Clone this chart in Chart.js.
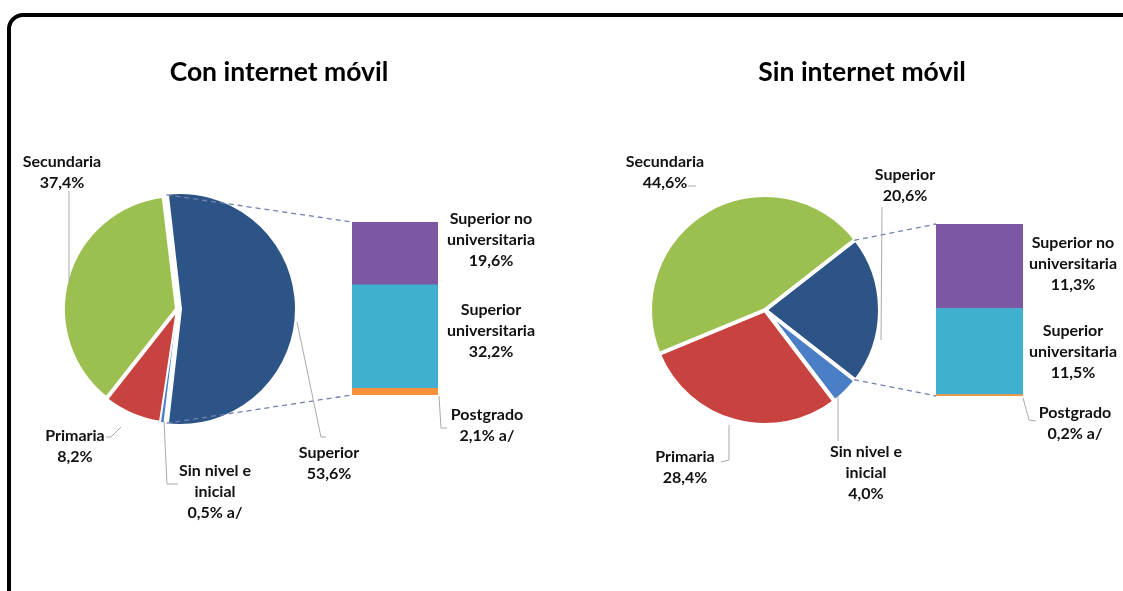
<!DOCTYPE html>
<html>
<head>
<meta charset="utf-8">
<script src="https://cdn.jsdelivr.net/npm/chart.js@4.4.0/dist/chart.umd.min.js"></script>
<style>
  html, body { margin: 0; padding: 0; background: #fff; overflow: hidden; }
  #wrap { position: relative; width: 1123px; height: 591px; overflow: hidden; }
  #frame { position: absolute; left: 7px; top: 13px; width: 1200px; height: 600px;
           border: 4px solid #000; border-radius: 16px; }
  canvas { position: absolute; left: 0; top: 0; }
</style>
</head>
<body>
<div id="wrap">
  <div id="frame"></div>
  <canvas id="pieCon" width="1123" height="591"></canvas>
  <canvas id="barCon" width="1123" height="591"></canvas>
  <canvas id="pieSin" width="1123" height="591"></canvas>
  <canvas id="barSin" width="1123" height="591"></canvas>
</div>
<script>
// pie: Superior is the slice broken out into the bar
const pieLabels = ['Superior', 'Sin nivel e inicial', 'Primaria', 'Secundaria'];
const pieNameLines = [['Superior'], ['Sin nivel e', 'inicial'], ['Primaria'], ['Secundaria']];
const pieConValues = [53.6, 0.5, 8.2, 37.4];
const pieSinValues = [20.6, 4.0, 28.4, 44.6];
const pieConNotes = ['', ' a/', '', ''];
const pieSinNotes = ['', '', '', ''];

// bar, stacked from the bottom up
const barLabels = ['Postgrado', 'Superior universitaria', 'Superior no universitaria'];
const barNameLines = [['Postgrado'], ['Superior', 'universitaria'], ['Superior no', 'universitaria']];
const barConValues = [2.1, 32.2, 19.6];
const barSinValues = [0.2, 11.5, 11.3];
const barConNotes = [' a/', '', ''];
const barSinNotes = [' a/', '', ''];

const pieColors = ['#2d5486', '#4a7ec6', '#c8433f', '#9bc04f'];
const barColors = ['#f7923a', '#3fb0d0', '#7c58a4'];

const FONT = 'Lato, "Open Sans", sans-serif';
const LINE_H = 21;

// where the texts sit (page pixels) and their leader lines
const layoutCon = {
  title: { text: 'Con internet móvil', x: 279, y: 72 },
  pie: [
    { x: 329, y: 453, leader: [[297, 322], [321, 437], [326, 437]] },
    { x: 215, y: 471, leader: [[164, 421], [167, 484], [178, 484]] },
    { x: 75, y: 436, leader: [[106, 437], [111, 437], [121, 427]] },
    { x: 62, y: 162, leader: [[69, 191], [69, 282]] }
  ],
  bar: [
    { x: 487, y: 415, leader: [[439, 396], [441, 428], [447, 428]] },
    { x: 491, y: 310 },
    { x: 491, y: 219 }
  ]
};
const layoutSin = {
  title: { text: 'Sin internet móvil', x: 862, y: 72 },
  pie: [
    { x: 905, y: 175, leader: [[882, 207], [881, 340]] },
    { x: 866, y: 452, leader: [[838, 396], [838, 441]] },
    { x: 685, y: 457, leader: [[729, 425], [729, 460], [721, 462]] },
    { x: 665, y: 162, leader: [[688, 186], [696, 186]] }
  ],
  bar: [
    { x: 1075, y: 413, leader: [[1023, 398], [1029, 420], [1036, 421]] },
    { x: 1073, y: 331 },
    { x: 1073, y: 243 }
  ]
};

const fmt = (v, note) => v.toFixed(1).replace('.', ',') + '%' + note;
const sum = arr => arr.reduce((a, b) => a + b, 0);

function drawLeader(ctx, pts) {
  if (!pts) return;
  ctx.save();
  ctx.strokeStyle = '#a9a9a9';
  ctx.lineWidth = 1;
  ctx.beginPath();
  pts.forEach((p, i) => i ? ctx.lineTo(p[0], p[1]) : ctx.moveTo(p[0], p[1]));
  ctx.stroke();
  ctx.restore();
}

function drawLabel(ctx, lines, x, y) {
  ctx.save();
  ctx.fillStyle = '#111';
  ctx.font = 'bold 16px ' + FONT;
  ctx.textAlign = 'center';
  ctx.textBaseline = 'middle';
  lines.forEach((t, i) => ctx.fillText(t, x, y + i * LINE_H));
  ctx.restore();
}

function makePie(id, values, padding, offsets, borders) {
  return new Chart(document.getElementById(id), {
    type: 'pie',
    data: {
      labels: pieLabels,
      datasets: [{
        data: values,
        backgroundColor: pieColors,
        borderColor: '#ffffff',
        borderWidth: borders,
        offset: offsets,
        hoverOffset: 0
      }]
    },
    options: {
      responsive: false,
      animation: false,
      events: [],
      devicePixelRatio: 1,
      // the broken-out slice is centred on the right, as in Excel
      rotation: 90 - values[0] / sum(values) * 180,
      layout: { padding: padding },
      plugins: { legend: { display: false }, tooltip: { enabled: false } }
    }
  });
}

function makeBar(id, values, padding, pieId, pieValues, pieNotes, barNotes, layout) {
  const annot = {
    id: 'annot_' + id,
    afterDraw(chart) {
      const ctx = chart.ctx;
      // dashed lines from the broken-out slice to the bar
      const pie = Chart.getChart(pieId);
      const arc = pie.getDatasetMeta(0).data[0];
      const p = arc.getProps(['x', 'y', 'startAngle', 'endAngle', 'outerRadius', 'circumference'], true);
      const off = (arc.options.offset || 0) / 4;
      const half = (p.startAngle + p.endAngle) / 2;
      const fix = 1 - Math.sin(Math.min(Math.PI, p.circumference));
      const cx = p.x + Math.cos(half) * off, cy = p.y + Math.sin(half) * off;
      const r = p.outerRadius + off * fix - (arc.options.borderWidth || 0) / 2;
      const topBar = chart.getDatasetMeta(values.length - 1).data[0];
      const botBar = chart.getDatasetMeta(0).data[0];
      const bx = topBar.x - topBar.width / 2;
      ctx.save();
      ctx.strokeStyle = '#7080ae';
      ctx.lineWidth = 1.3;
      ctx.setLineDash([5, 4]);
      ctx.beginPath();
      ctx.moveTo(cx + Math.cos(p.startAngle) * r, cy + Math.sin(p.startAngle) * r);
      ctx.lineTo(bx, topBar.y);
      ctx.moveTo(cx + Math.cos(p.endAngle) * r, cy + Math.sin(p.endAngle) * r);
      ctx.lineTo(bx, botBar.base);
      ctx.stroke();
      ctx.restore();

      // leaders and labels
      layout.pie.forEach((l, i) => {
        drawLeader(ctx, l.leader);
        drawLabel(ctx, pieNameLines[i].concat([fmt(pieValues[i], pieNotes[i])]), l.x, l.y);
      });
      layout.bar.forEach((l, i) => {
        drawLeader(ctx, l.leader);
        drawLabel(ctx, barNameLines[i].concat([fmt(values[i], barNotes[i])]), l.x, l.y);
      });

      // panel title
      ctx.save();
      ctx.fillStyle = '#000';
      ctx.font = 'bold 26.5px ' + FONT;
      ctx.textAlign = 'center';
      ctx.textBaseline = 'middle';
      ctx.fillText(layout.title.text, layout.title.x, layout.title.y);
      ctx.restore();
    }
  };

  return new Chart(document.getElementById(id), {
    type: 'bar',
    data: {
      labels: [''],
      datasets: barLabels.map((name, i) => ({
        label: name,
        data: [values[i]],
        backgroundColor: barColors[i],
        borderWidth: 0,
        barPercentage: 1,
        categoryPercentage: 1
      }))
    },
    options: {
      responsive: false,
      animation: false,
      events: [],
      devicePixelRatio: 1,
      layout: { padding: padding },
      scales: {
        x: { stacked: true, display: false },
        y: { stacked: true, display: false, min: 0, max: sum(values) }
      },
      plugins: { legend: { display: false }, tooltip: { enabled: false } }
    },
    plugins: [annot]
  });
}

Promise.all([
  document.fonts.load('bold 16px Lato'),
  document.fonts.load('bold 26px Lato')
]).catch(() => {}).then(() => {
  makePie('pieCon', pieConValues, { left: 55, top: 187, right: 824, bottom: 160 }, [12, 0, 0, 0], [4, 0, 2, 4]);
  makeBar('barCon', barConValues, { left: 352, right: 685, top: 222, bottom: 196 },
          'pieCon', pieConValues, pieConNotes, barConNotes, layoutCon);
  makePie('pieSin', pieSinValues, { left: 648, top: 193, right: 241, bottom: 164 }, 0, 4);
  makeBar('barSin', barSinValues, { left: 936, right: 100, top: 224, bottom: 195 },
          'pieSin', pieSinValues, pieSinNotes, barSinNotes, layoutSin);
});
</script>
</body>
</html>
